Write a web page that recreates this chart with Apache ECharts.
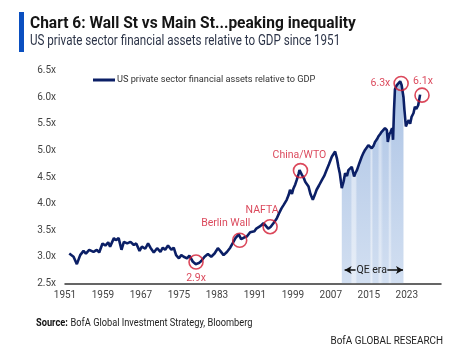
<!DOCTYPE html>
<html><head><meta charset="utf-8">
<script src="https://cdn.jsdelivr.net/npm/echarts@6/dist/echarts.min.js"></script>
<style>html,body{margin:0;padding:0;background:#fff}#c{width:453px;height:363px}</style>
</head><body><div id="c"></div>
<script>
const BASE_YEAR = 1951;
const years = [1951.9,1952.8,1953.5,1954.2,1954.9,1955.4,1956.1,1957.0,1957.7,1958.2,1958.9,1959.5,1960.1,1960.5,1961.3,1961.7,1962.3,1962.9,1963.4,1964.1,1964.8,1965.5,1966.0,1966.7,1967.2,1967.9,1968.5,1969.0,1969.7,1970.4,1971.1,1971.6,1972.1,1972.7,1973.4,1973.9,1974.4,1975.0,1975.5,1976.0,1976.7,1977.2,1977.9,1978.5,1979.2,1979.7,1980.4,1981.1,1981.8,1982.5,1983.2,1983.7,1984.4,1985.1,1985.8,1986.3,1986.9,1987.6,1988.1,1988.7,1989.3,1990.0,1990.4,1990.9,1991.3,1991.7,1992.2,1992.8,1993.3,1993.8,1994.3,1994.9,1995.3,1995.6,1996.1,1996.6,1997.1,1997.7,1998.1,1998.4,1998.8,1999.1,1999.5,1999.8,2000.2,2000.4,2000.9,2001.3,2001.6,2002.0,2002.3,2002.7,2003.2,2003.6,2004.0,2004.5,2005.1,2005.6,2006.1,2006.6,2007.2,2007.9,2008.3,2008.6,2008.9,2009.3,2009.7,2010.0,2010.4,2010.7,2011.1,2011.4,2011.9,2012.2,2012.5,2013.0,2013.5,2013.9,2014.2,2014.6,2014.9,2015.3,2015.6,2016.0,2016.3,2016.7,2017.0,2017.4,2017.7,2018.1,2018.4,2018.8,2019.0,2019.3,2019.6,2019.9,2020.1,2020.3,2020.5,2020.9,2021.3,2021.6,2021.9,2022.3,2022.5,2022.8,2023.1,2023.4,2023.7,2024.0,2024.4,2024.7,2025.0,2025.4,2025.8];
const values = [3.06,3.00,2.86,3.03,3.11,3.06,3.13,3.09,3.13,3.08,3.25,3.21,3.27,3.19,3.35,3.31,3.35,3.13,3.28,3.25,3.28,3.22,3.25,3.11,3.19,3.15,3.25,3.17,3.08,3.16,3.09,3.17,3.13,3.21,3.13,3.17,3.03,2.97,3.03,3.00,2.97,3.02,2.91,2.86,2.88,2.92,3.00,3.05,3.00,3.06,3.16,3.11,3.03,3.09,3.17,3.25,3.35,3.42,3.33,3.36,3.38,3.46,3.46,3.48,3.53,3.56,3.58,3.63,3.58,3.53,3.56,3.63,3.68,3.72,3.82,3.91,3.98,4.07,4.16,4.26,4.18,4.28,4.36,4.44,4.56,4.63,4.54,4.48,4.41,4.36,4.32,4.18,4.07,4.16,4.26,4.34,4.44,4.52,4.63,4.74,4.88,4.98,4.84,4.69,4.56,4.29,4.42,4.57,4.52,4.63,4.60,4.69,4.51,4.58,4.63,4.76,4.88,4.96,5.01,5.06,5.10,5.07,5.04,5.09,5.16,5.21,5.26,5.31,5.35,5.38,5.42,5.38,5.16,5.30,5.35,5.42,5.20,5.75,6.15,6.23,6.25,6.30,6.23,6.00,5.76,5.45,5.52,5.57,5.50,5.63,5.70,5.82,5.78,5.85,6.05];
const qeStart = 2009.3, qeEnd = 2022.3;
const annotLabels = ['2.9x','Berlin Wall','NAFTA','China/WTO','6.3x','6.1x'];
const annotYears = [1978.6,1987.8,1994.2,2000.6,2021.8,2026.2];
const annotValues = [2.90,3.31,3.565,4.62,6.26,6.04];
const yTicks = {min:2.5, max:6.5, step:0.5};
const xTickStep = 8;

const FONT = '"Roboto",sans-serif';
const RED = '#d21a32';
const NAVY = '#0b1f66';

const lineData = years.map((y,i)=>[y-BASE_YEAR, values[i]]);
const qeData = lineData.filter(d=>d[0]+BASE_YEAR>=qeStart-0.01 && d[0]+BASE_YEAR<=qeEnd+0.01);
const lblPos = [
  {position:'bottom', distance:3, offset:[0,0]},
  {position:'top', distance:4, offset:[-14,0]},
  {position:'top', distance:3, offset:[-8,0]},
  {position:'top', distance:2, offset:[-1,0]},
  {position:'left', distance:3, offset:[0,0]},
  {position:'top', distance:0, offset:[1,0]}
];
const annotData = annotLabels.map((t,i)=>({
  value:[annotYears[i]-BASE_YEAR, annotValues[i]], name:t,
  label:Object.assign({show:true, formatter:t, color:RED, fontSize:10.5, fontFamily:FONT}, lblPos[i])
}));

const chart = echarts.init(document.getElementById('c'), null, {renderer:'canvas'});
chart.setOption({
  animation:false,
  grid:{left:65, right:12, top:70.7, bottom:79.7, containLabel:false},
  legend:{show:true, left:88, top:70.5, itemWidth:22, itemHeight:3, itemGap:4,
    data:[{name:'US private sector financial assets relative to GDP', icon:'rect'}],
    textStyle:{fontFamily:FONT, fontSize:9.2, color:'#333', padding:[0,0,0,-3]}},
  xAxis:{type:'value', min:0, max:79.2, interval:xTickStep,
    axisLine:{show:true, lineStyle:{color:'#333', width:1.5}},
    axisTick:{show:false}, splitLine:{show:false},
    axisLabel:{margin:7, fontFamily:FONT, fontSize:10, color:'#444', showMaxLabel:false,
      formatter:v=> (Math.abs(v % xTickStep) < 1e-6 ? String(Math.round(v+BASE_YEAR)) : '')}},
  yAxis:{type:'value', min:yTicks.min, max:yTicks.max, interval:yTicks.step,
    axisLine:{show:false}, axisTick:{show:false}, splitLine:{show:false},
    axisLabel:{margin:9, fontFamily:FONT, fontSize:10, color:'#444', formatter:v=>v.toFixed(1)+'x'}},
  series:[
    {type:'line', name:'qe', data:qeData, symbol:'none', silent:true, z:1,
      lineStyle:{width:0},
      areaStyle:{opacity:1, color:new echarts.graphic.LinearGradient(0,0,0,1,[
        {offset:0,color:'#adc4e5'},{offset:1,color:'#d2dff1'}])}},
    {type:'line', name:'qe2', data:qeData, symbol:'none', silent:true, z:2,
      lineStyle:{width:0},
      areaStyle:{opacity:1, color:new echarts.graphic.LinearGradient(0,0,1,0,[
        {offset:0,color:'rgba(255,255,255,0)'},{offset:0.14,color:'rgba(255,255,255,0)'},
        {offset:0.17,color:'rgba(255,255,255,0.45)'},{offset:0.22,color:'rgba(255,255,255,0.45)'},
        {offset:0.25,color:'rgba(255,255,255,0)'},{offset:0.45,color:'rgba(255,255,255,0)'},
        {offset:0.48,color:'rgba(255,255,255,0.5)'},{offset:0.51,color:'rgba(255,255,255,0)'},
        {offset:0.58,color:'rgba(255,255,255,0)'},{offset:0.62,color:'rgba(255,255,255,0.45)'},
        {offset:0.67,color:'rgba(255,255,255,0)'},{offset:0.75,color:'rgba(255,255,255,0)'},
        {offset:0.78,color:'rgba(255,255,255,0.5)'},{offset:0.81,color:'rgba(255,255,255,0)'},
        {offset:1,color:'rgba(255,255,255,0)'}])},
      markLine:{silent:true, symbol:['none','arrow'], symbolSize:[6,7],
        lineStyle:{color:'#111', width:1.5, type:'solid'}, label:{show:false},
        data:[
          [{coord:[2012.2-BASE_YEAR,2.75]},{coord:[2009.9-BASE_YEAR,2.75]}],
          [{coord:[2018.9-BASE_YEAR,2.75]},{coord:[2022.2-BASE_YEAR,2.75]}]
        ]},
      markPoint:{silent:true, symbol:'circle', symbolSize:1, itemStyle:{color:'rgba(0,0,0,0)'},
        label:{show:true, position:'inside', color:'#222', fontFamily:FONT, fontSize:10.5},
        data:[{coord:[2015.6-BASE_YEAR,2.75], value:'QE era', label:{formatter:'QE era'}}]}
    },
    {type:'line', name:'US private sector financial assets relative to GDP', data:lineData,
      symbol:'none', z:3, color:NAVY, lineStyle:{color:NAVY, width:2.6}},
    {type:'scatter', name:'annot', data:annotData, symbol:'circle', symbolSize:14, z:4, silent:true,
      itemStyle:{color:'rgba(0,0,0,0)', borderColor:RED, borderWidth:1.6}}
  ],
  graphic:[
    {type:'rect', left:19, top:12, shape:{width:5, height:40}, style:{fill:'#0a4fc0'}},
    {type:'text', x:30, y:15.5, scaleX:0.97, style:{text:'Chart 6: Wall St vs Main St...peaking inequality',
      font:'bold 16px "Roboto",sans-serif', fill:'#151515'}},
    {type:'text', x:30, y:34, scaleX:0.83, style:{text:'US private sector financial assets relative to GDP since 1951',
      font:'14px "Roboto",sans-serif', fill:'#2c3448'}},
    {type:'text', x:36, y:317, scaleX:0.84, style:{rich:{b:{fontWeight:'bold', fontSize:11, fontFamily:FONT, fill:'#111'}, n:{fontSize:11, fontFamily:FONT, fill:'#222'}},
      text:'{b|Source:} {n|BofA Global Investment Strategy, Bloomberg}'}},
    {type:'text', x:443, y:336, scaleX:0.9, style:{text:'BofA GLOBAL RESEARCH', align:'right', font:'11px "Roboto",sans-serif', fill:'#222'}}
  ]
});
</script></body></html>
